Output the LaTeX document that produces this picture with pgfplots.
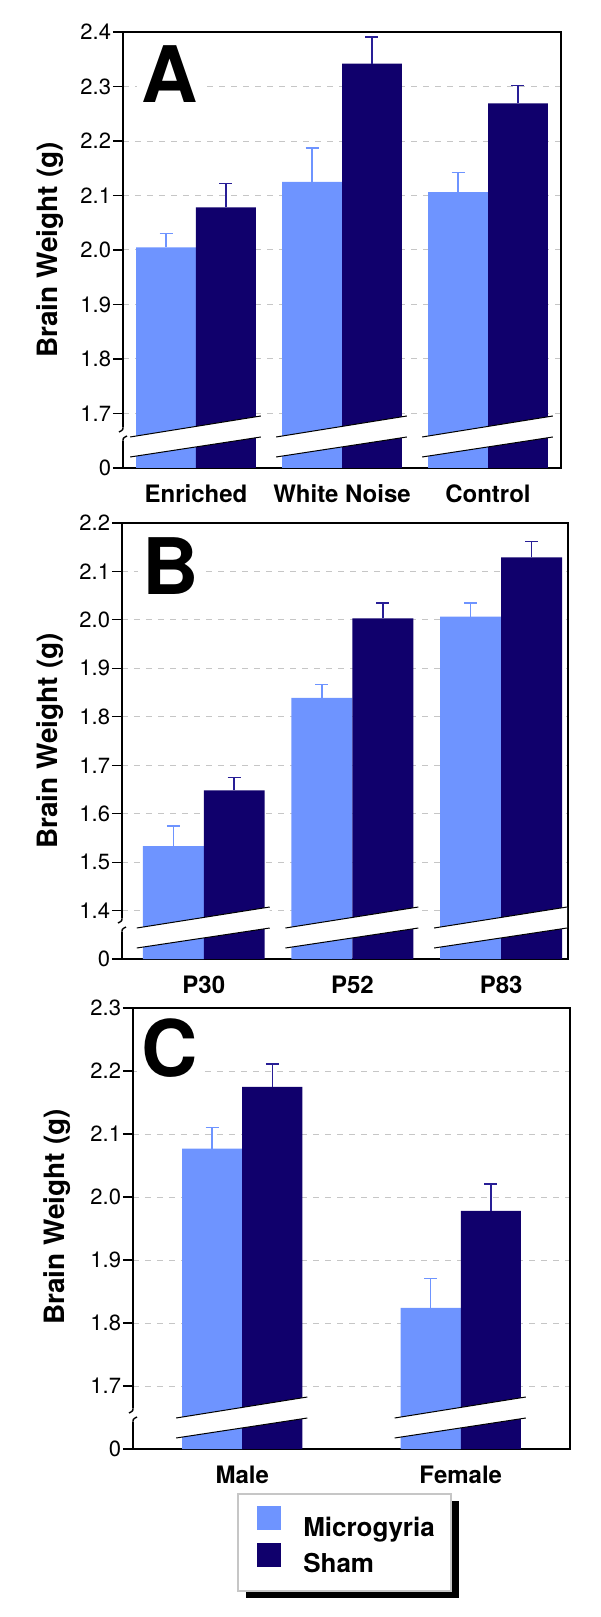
\documentclass[border=0pt]{standalone}
\usepackage{fontspec}
\setmainfont{TeX Gyre Heros}
\usepackage{pgfplots}
\pgfplotsset{compat=1.18}
\usepackage{pgfplotstable}

\definecolor{micro}{RGB}{110,148,255}
\definecolor{sham}{RGB}{16,0,108}
\definecolor{shamerr}{RGB}{40,30,150}

\pgfplotstableread{
x    micro microerr sham  shamerr
0.5  2.005 0.025    2.078 0.044
1.5  2.125 0.062    2.342 0.049
2.5  2.106 0.036    2.269 0.033
}\dataA
\pgfplotstableread{
x    micro microerr sham  shamerr
0.55 1.533 0.042    1.648 0.027
1.55 1.839 0.028    2.003 0.032
2.55 2.007 0.028    2.129 0.033
}\dataB
\pgfplotstableread{
x    micro microerr sham  shamerr
0.5  2.077 0.033    2.175 0.036
1.5  1.824 0.047    1.978 0.043
}\dataC

\pgfplotsset{
  panel/.style={
    scale only axis,
    ybar,
    axis line style={line width=1pt},
    ytick pos=left,
    xtick style={draw=none},
    tick align=outside,
    major tick length=5pt,
    ytick style={line width=0.6pt, black},
    ymajorgrids,
    grid style={dash pattern=on 3pt off 3pt, gray!45, line width=0.5pt},
    yticklabel style={font=\fontsize{11}{13}\selectfont, inner sep=0.8pt},
    xticklabel style={font=\fontsize{12}{14}\selectfont\bfseries, yshift=0pt},
    ylabel={Brain Weight (g)},
    ylabel style={font=\fontsize{14}{16}\selectfont\bfseries, anchor=center},
    clip mode=individual,
  },
  errM/.style={error bars/.cd, y dir=plus, y explicit,
    error bar style={color=micro, line width=0.75pt},
    error mark options={rotate=90, mark size=3.25pt, line width=0.75pt, color=micro}},
  errS/.style={error bars/.cd, y dir=plus, y explicit,
    error bar style={color=shamerr, line width=0.75pt},
    error mark options={rotate=90, mark size=3.25pt, line width=0.75pt, color=shamerr}},
}

% break band: #1 left x, #2 right x, #3 base y
\newcommand{\brk}[3]{%
  \fill[white] ([shift={(-3pt,5.5pt)}]axis cs:#1,#3) -- ([shift={(2.5pt,15.5pt)}]axis cs:#2,#3)
     -- ([shift={(2.5pt,26pt)}]axis cs:#2,#3) -- ([shift={(-3pt,15.5pt)}]axis cs:#1,#3) -- cycle;
  \draw[line width=0.5pt] ([shift={(-3pt,5.5pt)}]axis cs:#1,#3) -- ([shift={(2.5pt,15.5pt)}]axis cs:#2,#3);
  \draw[line width=0.5pt] ([shift={(-3pt,15.5pt)}]axis cs:#1,#3) -- ([shift={(2.5pt,26pt)}]axis cs:#2,#3);
}
% y-axis break on the spine of named axis #1
\newcommand{\spinebrk}[1]{%
  \fill[white] ([shift={(-1.5pt,13.5pt)}]#1.south west) rectangle ([shift={(1pt,20.5pt)}]#1.south west);
  \draw[line width=0.7pt] ([shift={(0pt,20.8pt)}]#1.south west) .. controls ([shift={(0pt,19pt)}]#1.south west) .. ([shift={(-2pt,18pt)}]#1.south west);
  \draw[line width=0.7pt] ([shift={(0pt,13.2pt)}]#1.south west) .. controls ([shift={(0pt,15pt)}]#1.south west) .. ([shift={(2pt,16pt)}]#1.south west);
}

\begin{document}
\begin{tikzpicture}
\path[use as bounding box] (0,0) rectangle (300pt,-808.5pt);

% ---------------- Panel A ----------------
\begin{axis}[panel, name=A,
  at={(61.5pt,-16pt)}, anchor=north west,
  width=219pt, height=218pt,
  xmin=0, xmax=3, ymin=1.6, ymax=2.4,
  ytick={1.6,1.7,1.8,1.9,2.0,2.1,2.2,2.3,2.4},
  yticklabels={0,1.7,1.8,1.9,2.0,2.1,2.2,2.3,2.4},
  xtick={0.5,1.5,2.5},
  xticklabels={Enriched,White Noise,Control},
  ylabel style={at={(axis description cs:-0.167,0.5)}},
]
\addplot[fill=micro, draw=none, bar width=0.41, bar shift=-0.205, errM]
  table[x=x, y=micro, y error=microerr] {\dataA};
\addplot[fill=sham, draw=none, bar width=0.41, bar shift=0.205, errS]
  table[x=x, y=sham, y error=shamerr] {\dataA};
\brk{0.09}{0.91}{1.6}
\brk{1.09}{1.91}{1.6}
\brk{2.09}{2.91}{1.6}
\node[anchor=north west, inner xsep=2pt, inner ysep=0pt, fill=white,
  font=\fontsize{39}{39}\selectfont\bfseries] at ([shift={(7pt,-6.5pt)}]rel axis cs:0,1) {A};
\end{axis}
\spinebrk{A}

% ---------------- Panel B ----------------
\begin{axis}[panel, name=B,
  at={(61pt,-261.5pt)}, anchor=north west,
  width=223pt, height=218pt,
  xmin=0, xmax=3, ymin=1.3, ymax=2.2,
  ytick={1.3,1.4,1.5,1.6,1.7,1.8,1.9,2.0,2.1,2.2},
  yticklabels={0,1.4,1.5,1.6,1.7,1.8,1.9,2.0,2.1,2.2},
  xtick={0.55,1.55,2.55},
  xticklabels={P30,P52,P83},
  ylabel style={at={(axis description cs:-0.161,0.5)}},
]
\addplot[fill=micro, draw=none, bar width=0.41, bar shift=-0.205, errM]
  table[x=x, y=micro, y error=microerr] {\dataB};
\addplot[fill=sham, draw=none, bar width=0.41, bar shift=0.205, errS]
  table[x=x, y=sham, y error=shamerr] {\dataB};
\brk{0.14}{0.96}{1.3}
\brk{1.14}{1.96}{1.3}
\brk{2.14}{2.96}{1.3}
\node[anchor=north west, inner xsep=2pt, inner ysep=0pt, fill=white,
  font=\fontsize{39}{39}\selectfont\bfseries] at ([shift={(8pt,-7pt)}]rel axis cs:0,1) {B};
\end{axis}
\spinebrk{B}

% legend frame with its shadow (drawn beneath the pgfplots legend)
\fill[black] (122.75pt,-750.25pt) rectangle (229.25pt,-798.75pt);
\draw[gray!45, line width=0.6pt, fill=white] (119pt,-747pt) rectangle (225.5pt,-795.5pt);

% ---------------- Panel C ----------------
\begin{axis}[panel, name=C,
  at={(66.5pt,-504pt)}, anchor=north west,
  width=218.5pt, height=220.5pt,
  xmin=0, xmax=2, ymin=1.6, ymax=2.3,
  ytick={1.6,1.7,1.8,1.9,2.0,2.1,2.2,2.3},
  yticklabels={0,1.7,1.8,1.9,2.0,2.1,2.2,2.3},
  xtick={0.5,1.5},
  xticklabels={Male,\raisebox{2pt}{Female}},
  ylabel style={at={(axis description cs:-0.174,0.526)}},
  legend style={at={(axis description cs:0.2844,-0.1302)}, anchor=north west,
    draw=none, fill=none, inner sep=0pt, outer sep=0pt,
    nodes={inner sep=0pt, outer sep=0pt},
    font=\fontsize{13}{15}\selectfont\bfseries,
    row sep=2.2pt},
  legend cell align=left,
  legend image code/.code={\fill[#1] (0pt,-1.3pt) rectangle (12pt,10.7pt);},
]
\addplot[fill=micro, draw=none, bar width=0.275, bar shift=-0.1375, errM]
  table[x=x, y=micro, y error=microerr] {\dataC};
\addlegendentry{\hspace{11pt}Microgyria}
\addplot[fill=sham, draw=none, bar width=0.275, bar shift=0.1375, errS]
  table[x=x, y=sham, y error=shamerr] {\dataC};
\addlegendentry{\hspace{11pt}Sham}
\brk{0.225}{0.775}{1.6}
\brk{1.225}{1.775}{1.6}
\node[anchor=north west, inner xsep=2pt, inner ysep=0pt, fill=white,
  font=\fontsize{39}{39}\selectfont\bfseries] at ([shift={(2pt,-5pt)}]rel axis cs:0,1) {C};
\end{axis}
\spinebrk{C}
\end{tikzpicture}
\end{document}
